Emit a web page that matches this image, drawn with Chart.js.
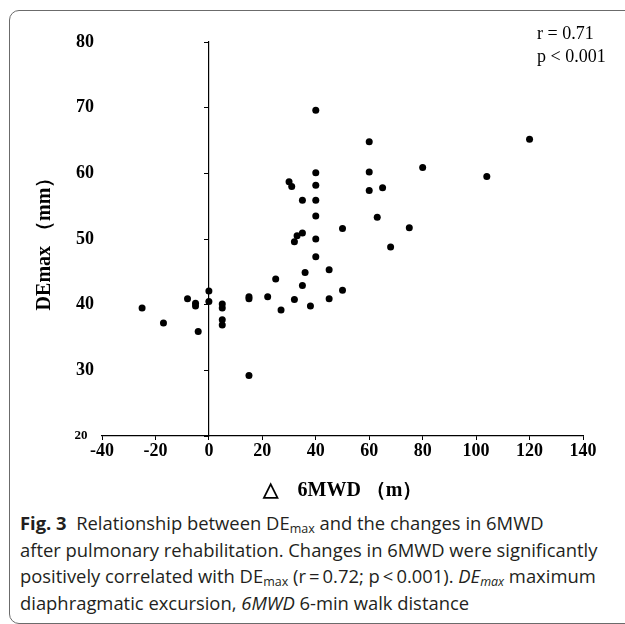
<!DOCTYPE html>
<html>
<head>
<meta charset="utf-8">
<script src="https://cdn.jsdelivr.net/npm/chart.js@4.4.0/dist/chart.umd.min.js"></script>
<style>
html, body { margin:0; padding:0; width:625px; height:624px; overflow:hidden; background:#fff; }
#marco { position:absolute; left:9px; top:10px; width:660px; height:614px; box-sizing:border-box; border:1.5px solid #6b6b6b; border-radius:10px; }
#grafico { position:absolute; left:0; top:0; }
#stats { position:absolute; left:537px; top:22px; font-family:"Liberation Serif", serif; font-size:18px; line-height:23px; color:#000; }
#pie { position:absolute; left:20px; top:510px; font-family:"Open Sans", sans-serif; font-size:18.4px; line-height:26.5px; white-space:nowrap; color:#231f20; }
#pie sub { font-size:12.5px; vertical-align:-3px; line-height:0; }
</style>
</head>
<body>
<div id="marco"></div>
<canvas id="grafico" width="625" height="510"></canvas>
<div id="stats">r = 0.71<br>p &lt; 0.001</div>
<div id="pie">
<b>Fig. 3</b>&nbsp; Relationship between DE<sub>max</sub> and the changes in 6MWD<br>
after pulmonary rehabilitation. Changes in 6MWD were significantly<br>
positively correlated with DE<sub>max</sub> (r&#8201;=&#8201;0.72; p&#8201;&lt;&#8201;0.001). <i>DE<sub>max</sub></i> maximum<br>
diaphragmatic excursion, <i>6MWD</i> 6-min walk distance
</div>
<script>
// Datos: cambio en 6MWD (m) y DEmax (mm)
const cambio6MWD = [-25, -17, -8, -5, -5, -4, 0, 0, 5, 5, 5, 5, 15, 15, 15, 22, 25, 27, 32, 32,
                    33, 35, 35, 36, 35, 30, 31, 38, 40, 40, 40, 40, 40, 40, 40, 45, 45, 50, 50,
                    60, 60, 60, 63, 65, 68, 75, 80, 104, 120];
const deMax      = [39.5, 37.2, 40.9, 40.2, 39.8, 35.9, 42.1, 40.5, 40.1, 39.5, 37.7, 36.9, 41.2, 40.9, 29.2, 41.2, 43.9, 39.2, 40.8, 49.6,
                    50.5, 50.9, 42.9, 44.9, 55.9, 58.7, 58.0, 39.8, 69.6, 60.1, 58.2, 55.9, 53.5, 50.0, 47.3, 45.3, 40.9, 51.6, 42.2,
                    64.8, 60.2, 57.4, 53.3, 57.8, 48.8, 51.7, 60.9, 59.5, 65.2];

// Ejes
const ejeX = { min: -40, max: 140, paso: 20, titulo: '△\u20036MWD （m）' };
const ejeY = { min: 20, max: 80, paso: 10, titulo: 'DEmax （mm）' };

const puntos = cambio6MWD.map((x, i) => ({ x: x, y: deMax[i] }));

Chart.defaults.color = '#000';
const serif = '"Liberation Serif", "Times New Roman", serif';

new Chart(document.getElementById('grafico'), {
    type: 'scatter',
    data: {
        datasets: [{
            data: puntos,
            backgroundColor: '#000',
            borderWidth: 0,
            pointRadius: 3.5,
            pointHoverRadius: 3.5
        }]
    },
    options: {
        responsive: false,
        animation: false,
        events: [],
        layout: { padding: { left: 20, right: 42, top: 42, bottom: 4 } },
        plugins: { legend: { display: false }, tooltip: { enabled: false } },
        scales: {
            x: {
                type: 'linear',
                min: ejeX.min, max: ejeX.max,
                afterFit: s => { s.height = 70; },
                border: { display: true, color: '#000', width: 1.2 },
                grid: { drawOnChartArea: false, drawTicks: true, tickLength: 4, color: '#000' },
                ticks: { stepSize: ejeX.paso, padding: 1, font: { family: serif, weight: 'bold', size: 18 } },
                title: { display: true, text: ejeX.titulo, padding: { top: 0, bottom: 3 },
                         font: { family: serif, weight: 'bold', size: 20 } }
            },
            y: {
                type: 'linear',
                position: 'left',
                min: ejeY.min, max: ejeY.max,
                afterFit: s => { s.width = 82; },
                border: { display: false },
                grid: { display: false, drawTicks: false },
                ticks: {
                    stepSize: ejeY.paso, padding: 8, crossAlign: 'near',
                    // el 20 va más pequeño y algo más a la izquierda
                    callback: v => v === 20 ? v + '\u2002' : '' + v,
                    font: ctx => ({ family: serif, weight: 'bold', size: (ctx.tick && ctx.tick.value === 20) ? 13 : 18 })
                },
                title: { display: true, text: ejeY.titulo, padding: { top: 13, bottom: 0 },
                         font: { family: serif, weight: 'bold', size: 20 } }
            },
            // línea vertical del eje Y en x = 0
            yCero: {
                type: 'linear',
                axis: 'y',
                position: { x: 0 },
                min: ejeY.min, max: ejeY.max,
                afterFit: s => { s.width = 0; },
                border: { display: true, color: '#000', width: 1.2 },
                grid: { drawOnChartArea: false, drawTicks: true, tickLength: 4, color: '#000' },
                ticks: { stepSize: ejeY.paso, display: false }
            }
        }
    }
});
</script>
</body>
</html>
